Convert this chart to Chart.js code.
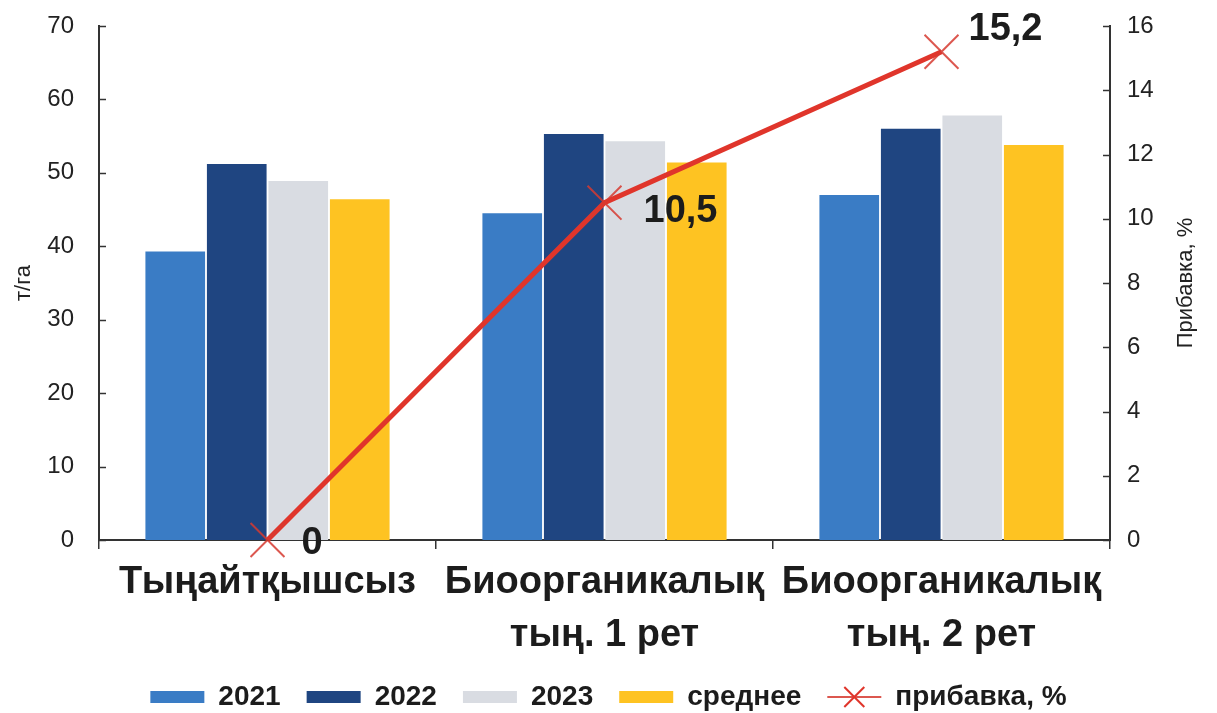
<!DOCTYPE html>
<html>
<head>
<meta charset="utf-8">
<script src="https://cdn.jsdelivr.net/npm/chart.js@4.4.1/dist/chart.umd.min.js"></script>
<style>
  html, body { margin: 0; padding: 0; background: #fff; }
</style>
</head>
<body>
<canvas id="myChart" width="1217" height="713"></canvas>
<script>
// yield by treatment, т/га, and the gain line on the right axis
const categories = [['Тыңайтқышсыз'], ['Биоорганикалық', 'тың. 1 рет'], ['Биоорганикалық', 'тың. 2 рет']];
const y2021 = [39.3, 44.5, 47.0];
const y2022 = [51.2, 55.3, 56.0];
const y2023 = [48.9, 54.3, 57.8];
const yMean = [46.4, 51.4, 53.8];
const gain = [0, 10.5, 15.2];
const seriesNames = ['2021', '2022', '2023', 'среднее', 'прибавка, %'];
const leftTicks = [0, 10, 20, 30, 40, 50, 60, 70];
const rightTicks = [0, 2, 4, 6, 8, 10, 12, 14, 16];
const leftTitle = 'т/га';
const rightTitle = 'Прибавка, %';

const FONT = "'Liberation Sans', Arial, sans-serif";
const RED = '#e0352b';
const AXIS = '#333333';

// decimal comma like the rest of the labels
const fmt = v => String(v).replace('.', ',');

// inward tick marks + both axis titles (right one reads bottom-to-top)
const axisDecor = {
  id: 'axisDecor',
  afterDraw(chart) {
    const {ctx, chartArea, scales} = chart;
    ctx.save();
    ctx.strokeStyle = AXIS;
    ctx.lineWidth = 1.5;
    leftTicks.forEach(v => {
      const py = Math.round(scales.y.getPixelForValue(v)) + 0.5;
      ctx.beginPath(); ctx.moveTo(chartArea.left, py); ctx.lineTo(chartArea.left + 7, py); ctx.stroke();
    });
    rightTicks.forEach(v => {
      const py = Math.round(scales.y1.getPixelForValue(v)) + 0.5;
      ctx.beginPath(); ctx.moveTo(chartArea.right, py); ctx.lineTo(chartArea.right - 7, py); ctx.stroke();
    });

    ctx.fillStyle = '#222';
    ctx.font = '22px ' + FONT;
    ctx.textAlign = 'center';
    ctx.textBaseline = 'middle';
    const midY = (chartArea.top + chartArea.bottom) / 2;
    ctx.save();
    ctx.translate(24, midY);
    ctx.rotate(-Math.PI / 2);
    ctx.fillText(leftTitle, 0, 0);
    ctx.restore();
    ctx.save();
    ctx.translate(chartArea.right + 76, midY);
    ctx.rotate(-Math.PI / 2);
    ctx.fillText(rightTitle, 0, 0);
    ctx.restore();

    // the marker on the line legend entry
    const hit = chart.legend.legendHitBoxes[4];
    if (hit) {
      const cx = hit.left + 27, cy = hit.top + hit.height / 2, r = 10;
      ctx.strokeStyle = RED;
      ctx.lineWidth = 2;
      ctx.beginPath();
      ctx.moveTo(cx - r, cy - r); ctx.lineTo(cx + r, cy + r);
      ctx.moveTo(cx + r, cy - r); ctx.lineTo(cx - r, cy + r);
      ctx.stroke();
    }
    ctx.restore();
  }
};

// value labels next to the gain points
const gainLabels = {
  id: 'gainLabels',
  afterDatasetsDraw(chart) {
    const meta = chart.getDatasetMeta(4);
    const shift = [[34, 4], [39, 9], [27, -22]];
    const {ctx} = chart;
    ctx.save();
    ctx.font = 'bold 38px ' + FONT;
    ctx.fillStyle = '#1c1c1c';
    ctx.textAlign = 'left';
    ctx.textBaseline = 'middle';
    meta.data.forEach((pt, i) => {
      ctx.fillText(fmt(gain[i]), pt.x + shift[i][0], pt.y + shift[i][1]);
    });
    ctx.restore();
  }
};

const bar = (label, data, color) => ({
  type: 'bar', label, data, backgroundColor: color, borderWidth: 0,
  yAxisID: 'y', order: 1, barPercentage: 0.97, categoryPercentage: 0.73
});

// fixed axis widths, no extra top padding from the tick labels
const fitY = w => s => { s.width = w; s.paddingTop = 0; };

new Chart(document.getElementById('myChart'), {
  data: {
    labels: categories,
    datasets: [
      bar(seriesNames[0], y2021, '#3a7cc5'),
      bar(seriesNames[1], y2022, '#1f4581'),
      bar(seriesNames[2], y2023, '#d9dce2'),
      bar(seriesNames[3], yMean, '#fec322'),
      {
        type: 'line', label: seriesNames[4], data: gain, yAxisID: 'y1', order: 0,
        borderColor: RED, backgroundColor: RED, borderWidth: 5, tension: 0, clip: false,
        pointStyle: 'crossRot', pointRadius: 24, pointBorderWidth: 2,
        pointBorderColor: 'rgba(214,58,48,0.85)'
      }
    ]
  },
  options: {
    responsive: false,
    animation: false,
    devicePixelRatio: 1,
    layout: { padding: { top: 25, bottom: -8, left: 0, right: 0 } },
    plugins: {
      tooltip: { enabled: false },
      legend: {
        position: 'bottom',
        labels: {
          usePointStyle: true,
          pointStyleWidth: 54,
          boxHeight: 12,
          padding: 26,
          color: '#1c1c1c',
          font: { family: FONT, size: 28, weight: 'bold' },
          sort: (a, b) => a.datasetIndex - b.datasetIndex,
          generateLabels(chart) {
            const items = Chart.defaults.plugins.legend.labels.generateLabels(chart);
            items.forEach(it => { it.pointStyle = it.datasetIndex === 4 ? 'line' : 'rect'; });
            return items;
          }
        }
      }
    },
    scales: {
      x: {
        grid: { offset: true, drawOnChartArea: false, tickLength: 9, color: AXIS, lineWidth: 1.5 },
        border: { display: true, color: AXIS, width: 2 },
        ticks: {
          color: '#1c1c1c', padding: 7, maxRotation: 0, autoSkip: false,
          font: { family: FONT, size: 38, weight: 'bold', lineHeight: 1.4 }
        },
        afterFit(s) { s.height = 117; }
      },
      y: {
        position: 'left', min: 0, max: 70,
        grid: { display: false },
        border: { display: true, color: AXIS, width: 2 },
        ticks: { stepSize: 10, padding: 17, color: '#222', font: { family: FONT, size: 24 } },
        afterBuildTicks(s) { s.ticks = leftTicks.map(v => ({ value: v })); },
        afterFit: fitY(99)
      },
      y1: {
        position: 'right', min: 0, max: 16,
        grid: { display: false },
        border: { display: true, color: AXIS, width: 2 },
        ticks: { stepSize: 2, padding: 9, color: '#222', font: { family: FONT, size: 24 } },
        afterBuildTicks(s) { s.ticks = rightTicks.map(v => ({ value: v })); },
        afterFit: fitY(107)
      }
    }
  },
  plugins: [axisDecor, gainLabels]
});
</script>
</body>
</html>
